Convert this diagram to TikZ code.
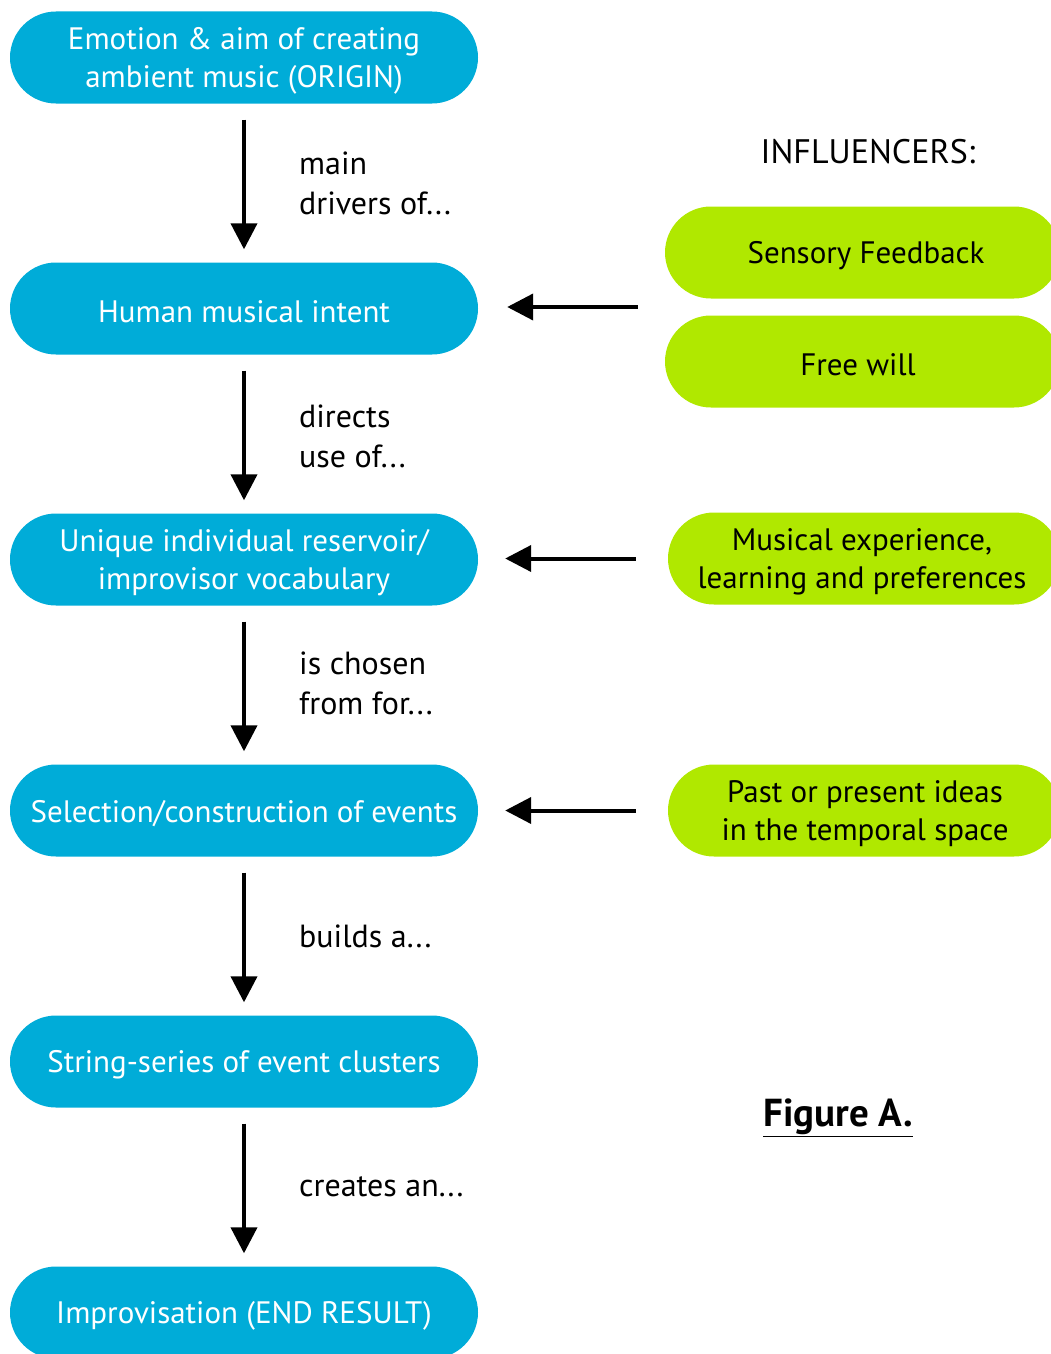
\documentclass[tikz,border=0pt]{standalone}
\usepackage{fontspec}
\setmainfont{PT Sans}
\usetikzlibrary{arrows.meta}
\definecolor{cblue}{RGB}{0,172,216}
\definecolor{cgreen}{RGB}{176,232,0}
\tikzset{
  bluebox/.style={fill=cblue, rounded corners=46pt, minimum width=468pt, minimum height=92pt, inner sep=0pt},
  greenbox/.style={fill=cgreen, rounded corners=46pt, minimum height=92pt, inner sep=0pt},
  btext/.style={text=white, align=center, inner sep=0pt, yshift=-3pt, font=\fontsize{31}{38}\selectfont},
  gtext/.style={text=black, align=center, inner sep=0pt, yshift=-3pt, font=\fontsize{31}{38}\selectfont},
  arr/.style={line width=4pt, -{Triangle[width=26pt,length=26pt]}},
  lbl/.style={anchor=west, align=left, inner sep=0pt, font=\fontsize{32}{40}\selectfont},
}
\begin{document}
\begin{tikzpicture}[x=1pt,y=1pt]
\useasboundingbox (0,0) rectangle (1051,-1354);
\clip (0,0) rectangle (1051,-1354);
% blue column
\node[bluebox] (b1) at (244,-57.5) {};
\node[bluebox] (b2) at (244,-308.5) {};
\node[bluebox] (b3) at (244,-559.5) {};
\node[bluebox] (b4) at (244,-810.5) {};
\node[bluebox] (b5) at (244,-1061.5) {};
\node[bluebox] (b6) at (244,-1312.5) {};
\node[btext] (t1) at (b1) {Emotion \& aim of creating\\ambient music (ORIGIN)};
\node[btext] (t2) at (b2) {Human musical intent};
\node[btext] (t3) at (b3) {Unique individual reservoir/\\improvisor vocabulary};
\node[btext] (t4) at (b4) {Selection/construction of events};
\node[btext] (t5) at (b5) {String-series of event clusters};
\node[btext] (t6) at (b6) {Improvisation (END RESULT)};
% vertical arrows
\draw[arr, shorten <=16pt, shorten >=13pt] (b1) -- (b2);
\draw[arr, shorten <=16pt, shorten >=13pt] (b2) -- (b3);
\draw[arr, shorten <=16pt, shorten >=13pt] (b3) -- (b4);
\draw[arr, shorten <=16pt, shorten >=13pt] (b4) -- (b5);
\draw[arr, shorten <=16pt, shorten >=13pt] (b5) -- (b6);
% labels
\node[lbl] (l1) at (299,-183) {main\\drivers of...};
\node[lbl] (l2) at (299,-436) {directs\\use of...};
\node[lbl] (l3) at (299,-683.5) {is chosen\\from for...};
\node[lbl] (l4) at (299,-936) {builds a...};
\node[lbl] (l5) at (299,-1187) {creates an...};
% influencers
\node[font=\fontsize{34}{40}\selectfont, inner sep=0pt] (inf) at (868,-152) {INFLUENCERS:};
\node[greenbox, minimum width=395pt] (g1) at (862.5,-252.5) {};
\node[greenbox, minimum width=395pt] (g2) at (862.5,-361.5) {};
\node[greenbox, minimum width=392pt] (g3) at (864,-558.5) {};
\node[greenbox, minimum width=392pt] (g4) at (864,-810.5) {};
\node[gtext] (s1) at (866,-252.5) {Sensory Feedback};
\node[gtext] (s2) at (858,-361.5) {Free will};
\node[gtext] (s3) at (862,-558.5) {Musical experience,\\learning and preferences};
\node[gtext] (s4) at (865,-810.5) {Past or present ideas\\in the temporal space};
\coordinate (gi) at (g1.west |- 0,-307);
\draw[arr, shorten <=27pt, shorten >=29pt] (gi) -- (gi -| b2.east);
\draw[arr, shorten <=32pt, shorten >=27pt] (g3.west) -- (g3.west -| b3.east);
\draw[arr, shorten <=32pt, shorten >=27pt] (g4.west) -- (g4.west -| b4.east);
% figure caption
\node[font=\fontsize{39}{44}\selectfont\bfseries, inner sep=0pt] (fig) at (838,-1118) {\underline{Figure A.}};
\end{tikzpicture}
\end{document}
